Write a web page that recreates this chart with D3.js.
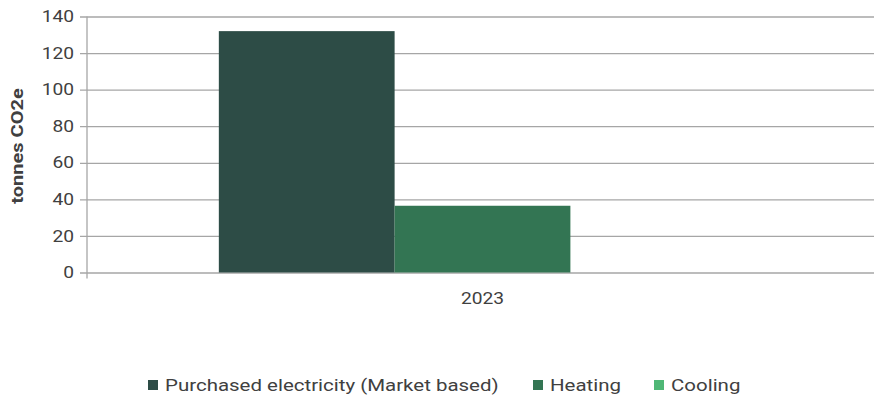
<!DOCTYPE html>
<html>
<head>
<meta charset="utf-8">
<script src="https://cdn.jsdelivr.net/npm/d3@7"></script>
<style>
  html, body { margin: 0; padding: 0; background: #fff; }
  svg { display: block; }
  text { font-family: Roboto, "Liberation Sans", sans-serif; fill: #404040; }
</style>
</head>
<body>
<svg id="chart" width="874" height="403"></svg>
<script>
const categories = ["2023"];
const seriesNames = ["Purchased electricity (Market based)", "Heating", "Cooling"];
const seriesValues = [[132], [36.5], [0]];
const seriesColors = ["#2d4c46", "#337553", "#4fb776"];
const yTicks = [0, 20, 40, 60, 80, 100, 120, 140];
const yTitle = "tonnes CO2e";

const W = 874, H = 403;
const m = { left: 87, right: 0, top: 16.5, bottom: 130.5 };
const svg = d3.select("#chart");

const x0 = d3.scaleBand().domain(categories).range([m.left, W - m.right + 4]).padding(0);
const x1 = d3.scaleBand().domain(seriesNames).range([0, x0.bandwidth()]).paddingInner(0).paddingOuter(0.75);
const y = d3.scaleLinear().domain([0, 140]).range([H - m.bottom, m.top]);

// gridlines + y axis
const yAxis = d3.axisLeft(y).tickValues(yTicks).tickSize(-(W - m.left - m.right)).tickPadding(13);
const gy = svg.append("g").attr("transform", `translate(${m.left},0)`).call(yAxis);
gy.select(".domain").remove();
gy.selectAll(".tick line").attr("stroke", "#a6a6a6").attr("stroke-width", 1.3).attr("x1", -7);
gy.selectAll(".tick text").attr("font-size", 16).attr("fill", "#404040")
  .each(function() {
    const t = d3.select(this);
    const tx = +t.attr("x");
    t.attr("transform", `translate(${tx},0) scale(1.2,1)`).attr("x", 0);
  });

// vertical axis line
svg.append("line").attr("x1", m.left).attr("x2", m.left)
  .attr("y1", m.top).attr("y2", y(0) + 6).attr("stroke", "#a6a6a6").attr("stroke-width", 1.3);

// bars
const g = svg.append("g");
categories.forEach((c, ci) => {
  seriesNames.forEach((s, si) => {
    const v = seriesValues[si][ci];
    g.append("rect")
      .attr("x", x0(c) + x1(s))
      .attr("y", y(v))
      .attr("width", x1.bandwidth())
      .attr("height", y(0) - y(v))
      .attr("fill", seriesColors[si]);
  });
});

// x axis labels
const gx = svg.append("g").attr("transform", `translate(0,${y(0)})`)
  .call(d3.axisBottom(x0).tickSize(0).tickPadding(20));
gx.select(".domain").remove();
gx.selectAll(".tick text").attr("font-size", 16).attr("fill", "#404040")
  .each(function() {
    const t = d3.select(this);
    t.attr("transform", `scale(1.2,1)`).attr("dy", "0.71em");
  });

// y title
const title = svg.append("text")
  .attr("text-anchor", "middle")
  .attr("font-size", 16)
  .attr("font-weight", "bold")
  .attr("fill", "#1a1a1a")
  .text(yTitle);
const tw = title.node().getBBox().width;
const ts = 116 / tw;
title.attr("transform", `translate(23,146) rotate(-90) scale(${ts},1)`);

// legend
const legendX = [148, 533, 654];
const lg = svg.append("g");
const legendTexts = [];
seriesNames.forEach((s, i) => {
  lg.append("rect").attr("x", legendX[i]).attr("y", 380).attr("width", 10).attr("height", 10).attr("fill", seriesColors[i]);
  legendTexts.push(lg.append("text")
    .attr("font-size", 16.5)
    .attr("fill", "#404040")
    .text(s));
});
const lw = legendTexts[0].node().getBBox().width;
const ls = 334 / lw;
legendTexts.forEach((t, i) => t.attr("transform", `translate(${legendX[i] + 17},391) scale(${ls},1)`));
</script>
</body>
</html>
